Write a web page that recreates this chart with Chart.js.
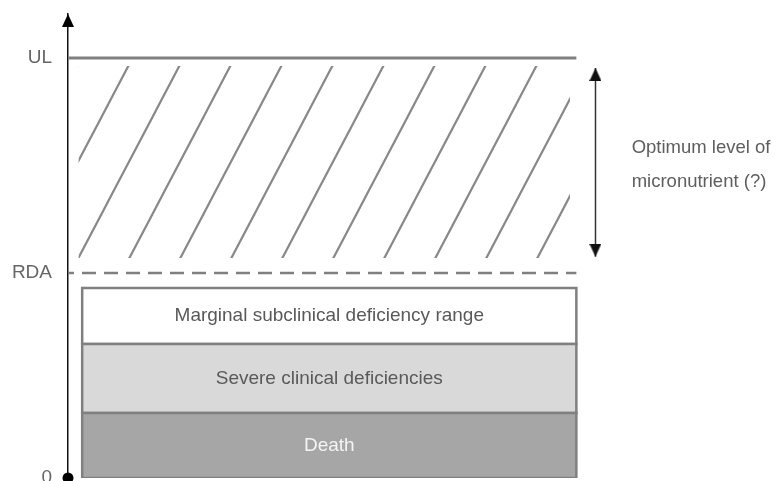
<!DOCTYPE html>
<html>
<head>
<meta charset="utf-8">
<style>
  html, body { margin: 0; padding: 0; background: #fff; overflow: hidden; }
</style>
<script src="https://cdn.jsdelivr.net/npm/chart.js"></script>
</head>
<body>
<canvas id="chart" width="777" height="481"></canvas>
<script>
// levels marked on the y axis
const levelLabels = ['0', 'RDA', 'UL'];
const levelValues = [0, 51.25, 105];

// deficiency zones, bottom to top
const zoneNames = ['Death', 'Severe clinical deficiencies', 'Marginal subclinical deficiency range'];
const zoneFrom = [0, 16.25, 33.5];
const zoneTo = [16.25, 33.5, 47.5];

// optimum band (hatched) and the double arrow next to it
const optimumBand = [55, 103];
const optimumArrow = [102.5, 55.3];
const optimumText = ['Optimum level of', 'micronutrient (?)'];
const optimumTextY = [81.25, 72.75];

// horizontal extents, hidden x axis runs 0..100
const lineEnd = 71.7;
const zoneX = [2, 71.7];
const bandX = [1.5, 70.8];
const arrowX = 74.4;
const textX = 79.5;
const yTop = 116;

const FONT = '"Liberation Sans", Arial, sans-serif';
const zoneFill = ['#a6a6a6', '#d9d9d9', '#ffffff'];
const zoneInk = ['#f4f4f4', '#595959', '#595959'];

const canvas = document.getElementById('chart');
const ctx = canvas.getContext('2d');

function arrowHead(color) {
    // tip sits at the centre of the image so it lands right on the data point
    const c = document.createElement('canvas');
    c.width = 12;
    c.height = 26;
    const g = c.getContext('2d');
    g.fillStyle = color;
    g.beginPath();
    g.moveTo(6, 13);
    g.lineTo(12, 26);
    g.lineTo(0, 26);
    g.closePath();
    g.fill();
    return c;
}

function hatchPattern() {
    const w = 51, h = 97, o = 10;
    const c = document.createElement('canvas');
    c.width = w;
    c.height = h;
    const g = c.getContext('2d');
    g.strokeStyle = '#888';
    g.lineWidth = 2.2;
    for (let k = -2; k <= 2; k++) {
        const x0 = o + k * w;
        g.beginPath();
        g.moveTo(x0 - w, 2 * h);
        g.lineTo(x0 + 2 * w, -h);
        g.stroke();
    }
    return ctx.createPattern(c, 'repeat');
}

function rect(x0, x1, y0, y1) {
    return [
        {x: x0, y: y0}, {x: x1, y: y0}, {x: x1, y: y1}, {x: x0, y: y1}, {x: x0, y: y0}
    ];
}

const datasets = [];

// origin dot
datasets.push({
    data: [{x: 0, y: 0}],
    showLine: false,
    pointStyle: 'circle',
    pointRadius: 5.5,
    pointBorderWidth: 0,
    pointBackgroundColor: '#000',
    clip: false
});

// arrow head on the y axis
datasets.push({
    data: [{x: 0, y: yTop}],
    showLine: false,
    pointStyle: arrowHead('#000'),
    pointRadius: 6,
    clip: false
});

// optimum double arrow
datasets.push({
    data: optimumArrow.map(v => ({x: arrowX, y: v})),
    borderColor: '#333',
    borderWidth: 1.5,
    pointStyle: arrowHead('#111'),
    pointRadius: 6,
    pointRotation: [0, 180],
    clip: false
});

// UL line
datasets.push({
    data: [{x: 0, y: levelValues[2]}, {x: lineEnd, y: levelValues[2]}],
    borderColor: '#808080',
    borderWidth: 3,
    pointRadius: 0
});

// RDA dashed line
datasets.push({
    data: [{x: 0, y: levelValues[1]}, {x: lineEnd, y: levelValues[1]}],
    borderColor: '#808080',
    borderWidth: 2.5,
    borderDash: [14, 8],
    borderDashOffset: 8,
    pointRadius: 0
});

// stacked zones
zoneNames.forEach((name, i) => {
    datasets.push({
        label: name,
        data: rect(zoneX[0], zoneX[1], zoneFrom[i], zoneTo[i]),
        borderColor: '#808080',
        borderWidth: 2.5,
        borderJoinStyle: 'miter',
        backgroundColor: zoneFill[i],
        fill: 'shape',
        pointRadius: 0
    });
});

// hatched band
datasets.push({
    data: rect(bandX[0], bandX[1], optimumBand[0], optimumBand[1]),
    borderWidth: 0,
    borderColor: 'rgba(0,0,0,0)',
    backgroundColor: hatchPattern(),
    fill: 'shape',
    pointRadius: 0
});

const textPlugin = {
    id: 'textPlugin',
    afterDatasetsDraw(chart) {
        const {x, y} = chart.scales;
        const c = chart.ctx;
        c.save();
        c.font = '19px ' + FONT;
        c.textAlign = 'center';
        c.textBaseline = 'middle';
        const cx = x.getPixelForValue((zoneX[0] + zoneX[1]) / 2);
        zoneNames.forEach((name, i) => {
            c.fillStyle = zoneInk[i];
            c.fillText(name, cx, y.getPixelForValue((zoneFrom[i] + zoneTo[i]) / 2));
        });
        c.font = '18.5px ' + FONT;
        c.textAlign = 'left';
        c.textBaseline = 'alphabetic';
        c.fillStyle = '#5e5e5e';
        optimumText.forEach((t, i) => {
            c.fillText(t, x.getPixelForValue(textX), y.getPixelForValue(optimumTextY[i]));
        });
        c.restore();
    }
};

new Chart(ctx, {
    type: 'line',
    data: {datasets: datasets},
    options: {
        responsive: false,
        animation: false,
        events: [],
        layout: {autoPadding: false, padding: {top: 14, bottom: 3, left: 0, right: 0}},
        elements: {line: {tension: 0}},
        plugins: {
            legend: {display: false},
            tooltip: {enabled: false}
        },
        scales: {
            x: {
                type: 'linear',
                min: 0,
                max: 100,
                display: false
            },
            y: {
                type: 'linear',
                min: 0,
                max: yTop,
                grid: {display: false, drawTicks: false},
                border: {display: true, color: '#111', width: 1.5},
                afterBuildTicks(scale) {
                    scale.ticks = levelValues.map(v => ({value: v}));
                },
                afterFit(scale) {
                    scale.width = 68;
                    scale.paddingTop = 0;
                    scale.paddingBottom = 0;
                },
                ticks: {
                    autoSkip: false,
                    padding: 16,
                    color: '#666',
                    font: {family: FONT, size: 19},
                    callback: (v, i) => levelLabels[i]
                }
            }
        }
    },
    plugins: [textPlugin]
});
</script>
</body>
</html>
